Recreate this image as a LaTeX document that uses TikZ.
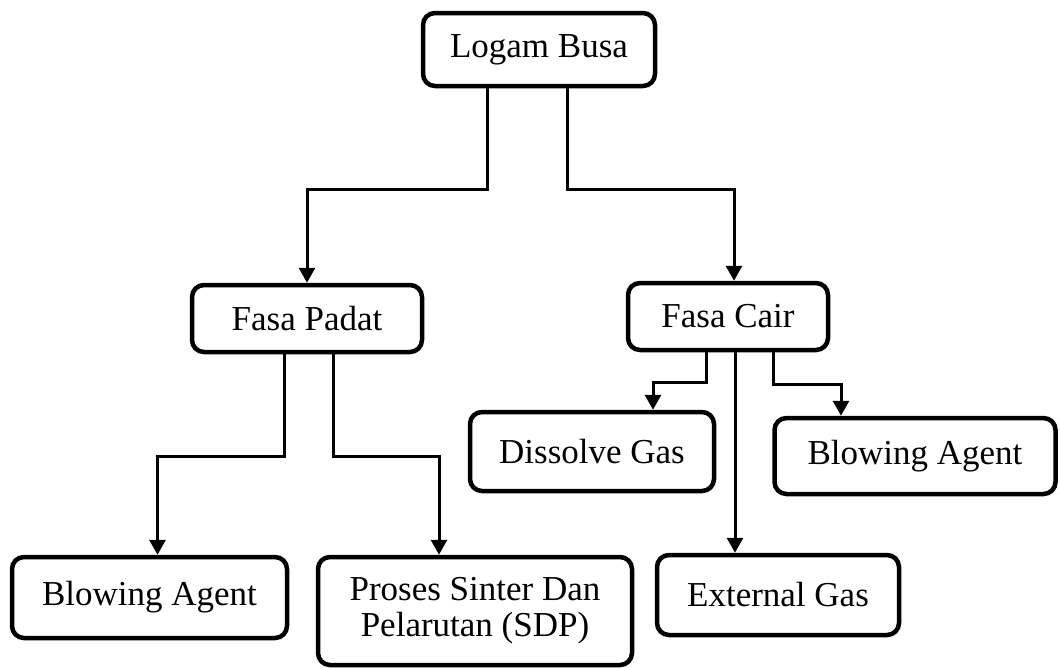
\documentclass[tikz,border=0pt]{standalone}
\usepackage{fontspec}
\setmainfont{Liberation Serif}
\usetikzlibrary{arrows.meta}
\begin{document}
\begin{tikzpicture}[x=1pt,y=-1pt,
  box/.style={draw, line width=4.5pt, rounded corners=12pt, inner sep=0pt,
    align=center, font=\fontsize{35}{36}\selectfont},
  conn/.style={line width=3pt, -{Triangle[length=15pt,width=16pt]}}]
\useasboundingbox (0,0) rectangle (1060,667);
\node[box, minimum width=232pt, minimum height=73pt] (logam) at (539,49.5) {Logam Busa};
\node[box, minimum width=230pt, minimum height=67pt] (padat) at (307,318.5) {Fasa Padat};
\node[box, minimum width=200pt, minimum height=67pt] (cair) at (728,316.5) {Fasa Cair};
\node[box, minimum width=244pt, minimum height=79pt] (dissolve) at (592,451.5) {Dissolve Gas};
\node[box, minimum width=281pt, minimum height=76pt] (blowR) at (915,456) {Blowing Agent};
\node[box, minimum width=275pt, minimum height=81pt] (blowL) at (149.5,597.5) {Blowing Agent};
\node[box, minimum width=314pt, minimum height=108pt] (proses) at (475,611) {Proses Sinter Dan\\Pelarutan (SDP)};
\node[box, minimum width=242pt, minimum height=80pt] (external) at (778,595) {External Gas};
\draw[conn] ([xshift=-52pt]logam.south) -- ++(0,101) -| (padat.north);
\draw[conn] ([xshift=28pt]logam.south) -- ++(0,101) -| ([xshift=6pt]cair.north);
\draw[conn] ([xshift=-23pt]padat.south) -- ++(0,102) -| ([xshift=8pt]blowL.north);
\draw[conn] ([xshift=26pt]padat.south) -- ++(0,102) -| ([xshift=-36pt]proses.north);
\draw[conn] ([xshift=-22pt]cair.south) -- ++(0,30) -| ([xshift=61pt]dissolve.north);
\draw[conn] ([xshift=7pt]cair.south) -- ([xshift=7pt]cair.south |- external.north);
\draw[conn] ([xshift=45pt]cair.south) -- ++(0,32) -| ([xshift=-74pt]blowR.north);
\end{tikzpicture}
\end{document}
